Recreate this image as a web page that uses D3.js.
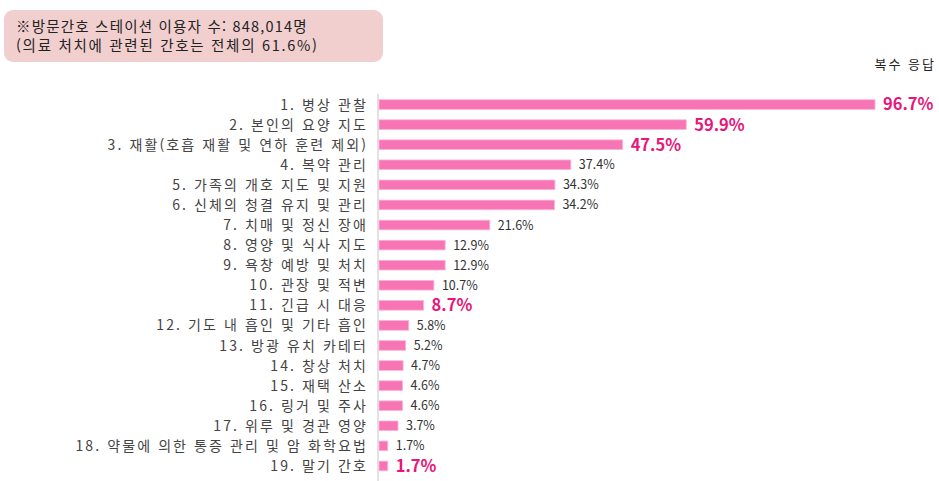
<!DOCTYPE html>
<html lang="ko">
<head>
<meta charset="utf-8">
<title>방문간호 내용</title>
<script src="https://cdn.jsdelivr.net/npm/d3@7"></script>
<style>
  body { margin: 0; background: #fff; }
  text { font-family: "Noto Sans CJK KR", "Noto Sans", sans-serif; }
</style>
</head>
<body>
<script>
var categories = [
  "1. 병상 관찰",
  "2. 본인의 요양 지도",
  "3. 재활(호흡 재활 및 연하 훈련 제외)",
  "4. 복약 관리",
  "5. 가족의 개호 지도 및 지원",
  "6. 신체의 청결 유지 및 관리",
  "7. 치매 및 정신 장애",
  "8. 영양 및 식사 지도",
  "9. 욕창 예방 및 처치",
  "10. 관장 및 적변",
  "11. 긴급 시 대응",
  "12. 기도 내 흡인 및 기타 흡인",
  "13. 방광 유치 카테터",
  "14. 창상 처치",
  "15. 재택 산소",
  "16. 링거 및 주사",
  "17. 위루 및 경관 영양",
  "18. 약물에 의한 통증 관리 및 암 화학요법",
  "19. 말기 간호"
];
var values = [96.7, 59.9, 47.5, 37.4, 34.3, 34.2, 21.6, 12.9, 12.9, 10.7, 8.7, 5.8, 5.2, 4.7, 4.6, 4.6, 3.7, 1.7, 1.7];
var highlighted = [0, 1, 2, 10, 18];
var noteLines = ["※방문간호 스테이션 이용자 수: 848,014명", "(의료 처치에 관련된 간호는 전체의 61.6%)"];
var noteRight = "복수 응답";

var w = 939, h = 481;
var x0 = 378;

var svg = d3.select("body").append("svg")
  .attr("width", w)
  .attr("height", h);

// note box
svg.append("rect")
  .attr("x", 4).attr("y", 10)
  .attr("width", 379).attr("height", 52)
  .attr("rx", 9)
  .attr("fill", "#f2cfcf");

svg.selectAll(".note")
  .data(noteLines)
  .enter()
  .append("text")
  .attr("x", 16)
  .attr("y", function(d, i) { return 32 + i * 19; })
  .attr("font-size", 14.5)
  .attr("letter-spacing", function(d, i) { return i == 0 ? 1.2 : 1.7; })
  .attr("fill", "#222")
  .text(function(d) { return d; });

svg.append("text")
  .attr("x", 936).attr("y", 69)
  .attr("text-anchor", "end")
  .attr("font-size", 13)
  .attr("letter-spacing", 2)
  .attr("fill", "#222")
  .text(noteRight);

var x = d3.scaleLinear()
  .domain([0, 96.7])
  .range([x0 + 1, 875]);

var y = d3.scaleBand()
  .domain(categories)
  .range([94.5, 476])
  .paddingInner(0.52)
  .paddingOuter(0.26);

// axis line
svg.append("line")
  .attr("x1", x0).attr("x2", x0)
  .attr("y1", 94).attr("y2", h)
  .attr("stroke", "#d9d9d9")
  .attr("stroke-width", 1.5);

svg.selectAll(".bar")
  .data(values)
  .enter()
  .append("rect")
  .attr("x", x(0))
  .attr("y", function(d, i) { return y(categories[i]); })
  .attr("width", function(d) { return x(d) - x(0); })
  .attr("height", y.bandwidth())
  .attr("fill", "#f775b5")
  .attr("stroke", "#fbb3d6")
  .attr("stroke-width", 0.8);

svg.selectAll(".cat")
  .data(categories)
  .enter()
  .append("text")
  .attr("x", 368)
  .attr("y", function(d) { return y(d) + y.bandwidth() / 2; })
  .attr("dy", "0.36em")
  .attr("text-anchor", "end")
  .attr("font-size", 14)
  .attr("letter-spacing", 2.1)
  .attr("fill", "#444")
  .text(function(d) { return d; });

svg.selectAll(".val")
  .data(values)
  .enter()
  .append("text")
  .attr("x", function(d) { return x(d) + 8; })
  .attr("y", function(d, i) { return y(categories[i]) + y.bandwidth() / 2; })
  .attr("dy", "0.36em")
  .attr("font-size", function(d, i) { return highlighted.indexOf(i) >= 0 ? 16.5 : 12.5; })
  .attr("font-weight", function(d, i) { return highlighted.indexOf(i) >= 0 ? "bold" : "normal"; })
  .attr("fill", function(d, i) { return highlighted.indexOf(i) >= 0 ? "#e8167b" : "#333"; })
  .text(function(d) { return d.toFixed(1) + "%"; });
</script>
</body>
</html>
